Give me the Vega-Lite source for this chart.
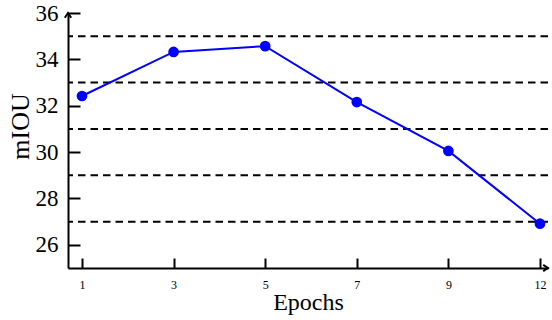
{
  "$schema": "https://vega.github.io/schema/vega-lite/v6.json",
  "width": 480,
  "height": 255,
  "autosize": {"type": "none"},
  "padding": {"left": 68, "top": 13, "right": 4, "bottom": 52},
  "config": {
    "view": {"stroke": null},
    "font": "Liberation Serif",
    "axis": {"grid": false, "domainColor": "black", "tickColor": "black", "labelColor": "black", "titleColor": "black", "labelFont": "Liberation Serif", "titleFont": "Liberation Serif", "titleFontWeight": "normal"}
  },
  "datasets": {
    "main": [
      {"epoch": "1", "miou": 32.42},
      {"epoch": "3", "miou": 34.32},
      {"epoch": "5", "miou": 34.57},
      {"epoch": "7", "miou": 32.16},
      {"epoch": "9", "miou": 30.05},
      {"epoch": "12", "miou": 26.91}
    ],
    "grid": [{"v": 27}, {"v": 29}, {"v": 31}, {"v": 33}, {"v": 35}],
    "arrows": [
      {"ax": 0, "ay": 36, "dir": "up"},
      {"ax": 1, "ay": 25, "dir": "right"}
    ]
  },
  "layer": [
    {
      "layer": [
        {
          "data": {"name": "grid"},
          "mark": {"type": "rule", "strokeDash": [7.5, 5], "strokeWidth": 2, "color": "black"},
          "encoding": {
            "y": {"field": "v", "type": "quantitative",
              "scale": {"domain": [25, 36], "nice": false, "zero": false},
              "axis": {"title": "mIOU", "values": [26, 28, 30, 32, 34, 36], "labelFontSize": 23, "titleFontSize": 26, "tickSize": -12, "tickWidth": 2, "domainWidth": 2, "labelPadding": 22, "titlePadding": 2, "titleY": 113}}
          }
        },
        {
          "data": {"name": "main"},
          "mark": {"type": "line", "color": "#0000ff", "strokeWidth": 2},
          "encoding": {
            "x": {"field": "epoch", "type": "ordinal", "sort": null,
              "scale": {"type": "point", "padding": 0.12, "align": 0.636},
              "axis": {"title": "Epochs", "labelAngle": 0, "labelFontSize": 12, "titleFontSize": 24, "tickSize": -10, "tickWidth": 2, "domainWidth": 2, "labelPadding": 21, "titlePadding": 0}},
            "y": {"field": "miou", "type": "quantitative"}
          }
        },
        {
          "data": {"name": "main"},
          "mark": {"type": "point", "filled": true, "color": "#0000ff", "size": 115, "opacity": 1},
          "encoding": {
            "x": {"field": "epoch", "type": "ordinal", "sort": null},
            "y": {"field": "miou", "type": "quantitative"}
          }
        }
      ]
    },
    {
      "data": {"name": "arrows"},
      "layer": [
        {
          "transform": [{"filter": "datum.dir === 'up'"}],
          "mark": {"type": "point", "shape": "M-0.8,1.2L0,0L0.8,1.2", "filled": false, "stroke": "black", "strokeWidth": 2, "size": 64, "opacity": 1},
          "encoding": {
            "x": {"field": "ax", "type": "quantitative", "scale": {"domain": [0, 1], "nice": false}, "axis": null},
            "y": {"field": "ay", "type": "quantitative"}
          }
        },
        {
          "transform": [{"filter": "datum.dir === 'right'"}],
          "mark": {"type": "point", "shape": "M-1.2,-0.8L0,0L-1.2,0.8", "filled": false, "stroke": "black", "strokeWidth": 2, "size": 64, "opacity": 1},
          "encoding": {
            "x": {"field": "ax", "type": "quantitative", "axis": null},
            "y": {"field": "ay", "type": "quantitative"}
          }
        }
      ]
    }
  ],
  "resolve": {"scale": {"x": "independent"}}
}
